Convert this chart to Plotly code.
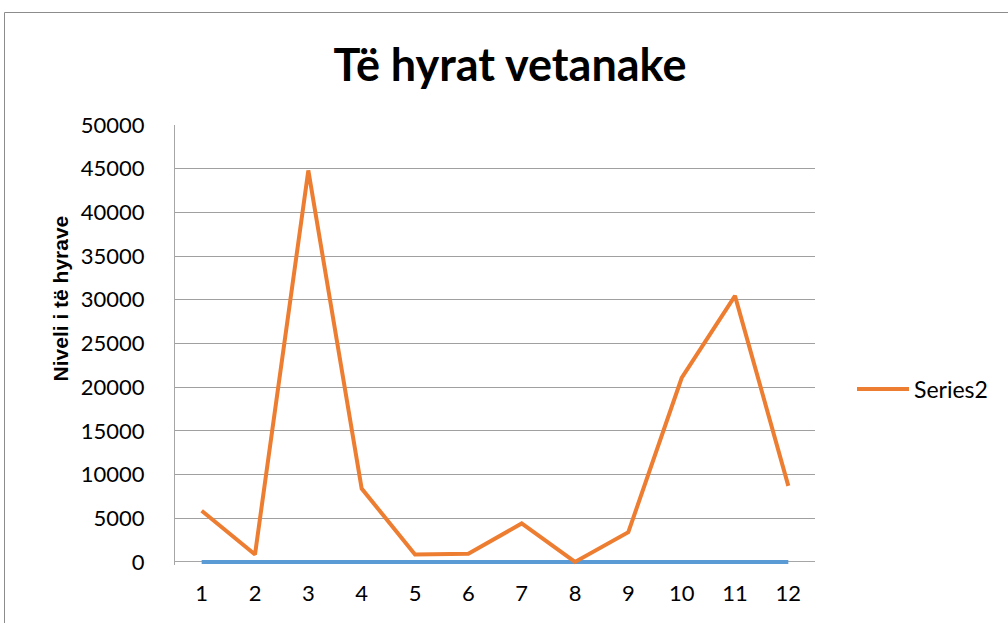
import plotly.graph_objects as go

categories = [str(i) for i in range(1, 13)]
series1 = [0] * 12
series2 = [5850, 850, 44800, 8400, 850, 950, 4400, 0, 3400, 21050, 30450, 8700]
y_ticks = list(range(0, 50001, 5000))

L, R, T, B = 175, 815, 125, 562
W, H = 1008, 623
Y_PAD = 350  # small room below zero so the thick zero line is not clipped
pad_px = (B - T) * Y_PAD / 50000

def px(xp):
    return (xp - L) / (R - L)

def py(yp):
    return (B + pad_px - yp) / (B + pad_px - T)

fig = go.Figure()
fig.add_trace(go.Scatter(x=categories, y=series1, mode="lines", name="Series1",
                         line=dict(color="#5B9BD5", width=4), showlegend=False))
fig.add_trace(go.Scatter(x=categories, y=series2, mode="lines", name="Series2",
                         line=dict(color="#ED7D31", width=4)))

fig.update_layout(
    width=W, height=H,
    margin=dict(l=L, r=W - R, t=T, b=H - B - pad_px),
    paper_bgcolor="white", plot_bgcolor="white",
    font=dict(family="Lato", color="#000"),
    title=dict(text="<b>Të hyrat vetanake</b>", x=510 / W, xanchor="center",
               y=1 - 65 / H, yanchor="middle", font=dict(size=45, family="Lato", color="#000")),
    showlegend=True,
    legend=dict(x=px(852), xanchor="left", y=py(389), yanchor="middle",
                font=dict(size=23, family="Lato", color="#000"), bgcolor="rgba(0,0,0,0)",
                itemwidth=52),
    xaxis=dict(type="category", range=[-0.5, 11.5], showgrid=False,
               showline=False, ticks="", tickfont=dict(size=22, family="Lato", color="#000"),
               ticklabelstandoff=13, zeroline=False),
    yaxis=dict(range=[-Y_PAD, 50000], tickvals=y_ticks, ticktext=[str(v) for v in y_ticks],
               showgrid=True, gridcolor="#a0a0a0", gridwidth=1,
               showline=True, linecolor="#a6a6a6", linewidth=1,
               zeroline=True, zerolinecolor="#a6a6a6", zerolinewidth=1,
               ticks="", tickfont=dict(size=22, family="Lato", color="#000"),
               ticklabelstandoff=25),
    annotations=[dict(text="<b>Niveli i të hyrave</b>", textangle=-90, xref="paper", yref="paper",
                      x=px(60), y=py(298.5), xanchor="center", yanchor="middle", showarrow=False,
                      font=dict(size=21, family="Liberation Sans", color="#000"))],
    shapes=[dict(type="rect", xref="paper", yref="paper",
                 x0=px(4.5), x1=px(1012), y0=py(12.5), y1=py(630),
                 line=dict(color="#8c8c8c", width=1), fillcolor="rgba(0,0,0,0)", layer="below")],
)

fig.write_html("out.html", config={"displayModeBar": False},
               post_script="document.body.style.margin='0';document.body.style.overflow='hidden';")
